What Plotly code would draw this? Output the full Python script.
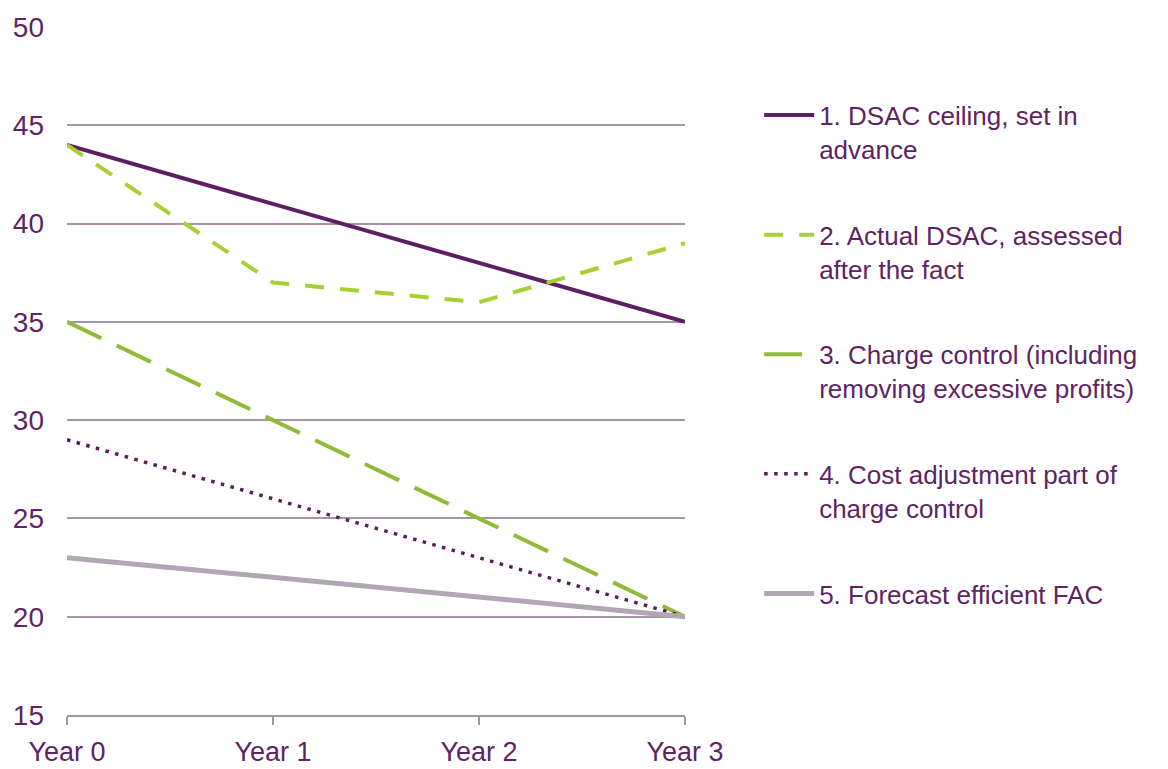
import plotly.graph_objects as go

years = [0, 1, 2, 3]
year_labels = ["Year 0", "Year 1", "Year 2", "Year 3"]

s1_name = "1. DSAC ceiling, set in<br>advance"
s1 = [44, 41, 38, 35]
s2_name = "2. Actual DSAC, assessed<br>after the fact"
s2 = [44, 37, 36, 39]
s3_name = "3. Charge control (including<br>removing excessive profits)"
s3 = [35, 30, 25, 20]
s4_name = "4. Cost adjustment part of<br>charge control"
s4 = [29, 26, 23, 20]
s5_name = "5. Forecast efficient FAC"
s5 = [23, 22, 21, 20]

y_ticks = [15, 20, 25, 30, 35, 40, 45, 50]

PURPLE = "#5E1F62"
TEXT = "#5E2464"
GRID = "#A894A8"

fig = go.Figure()
series = [
    (s1_name, s1, PURPLE, 4, "solid"),
    (s2_name, s2, "#A8D032", 4, "19px,16px"),
    (s3_name, s3, "#92BA3A", 4, "38px,17px"),
    (s4_name, s4, "#5A1A5C", 3.5, "3.5px,6.5px"),
    (s5_name, s5, "#B2A5B4", 5, "solid"),
]
for i, (name, vals, col, w, dash) in enumerate(series):
    fig.add_trace(go.Scatter(
        x=years, y=vals, name=name, mode="lines",
        line=dict(color=col, width=w, dash=dash),
        legendgroup=f"g{i}", cliponaxis=False,
    ))

fig.update_layout(
    width=1168, height=769,
    margin=dict(l=67, r=483, t=27, b=54, autoexpand=False),
    paper_bgcolor="white", plot_bgcolor="white",
    font=dict(family="Liberation Sans, Arial, sans-serif", size=26, color=TEXT),
    legend=dict(
        x=1.12, y=0.906, xanchor="left", yanchor="top",
        font=dict(size=26, color=TEXT),
        tracegroupgap=49, valign="top", itemwidth=50,
        bgcolor="rgba(0,0,0,0)",
    ),
    showlegend=True,
)
fig.update_xaxes(
    range=[0, 3], tickvals=years, ticktext=year_labels,
    showgrid=False, zeroline=False, automargin=False,
    showline=True, linecolor=GRID, linewidth=1.5,
    ticks="outside", ticklen=8, tickcolor=GRID, tickwidth=1.5,
    ticklabelstandoff=4,
    tickfont=dict(size=27, color=TEXT),
)
fig.update_yaxes(
    range=[15, 50], tickvals=y_ticks, automargin=False,
    showgrid=True, gridcolor=GRID, gridwidth=1.5,
    zeroline=False, showline=False, ticks="",
    ticklabelstandoff=22,
    tickfont=dict(size=28, color=TEXT),
)

fig.write_html("out.html")
